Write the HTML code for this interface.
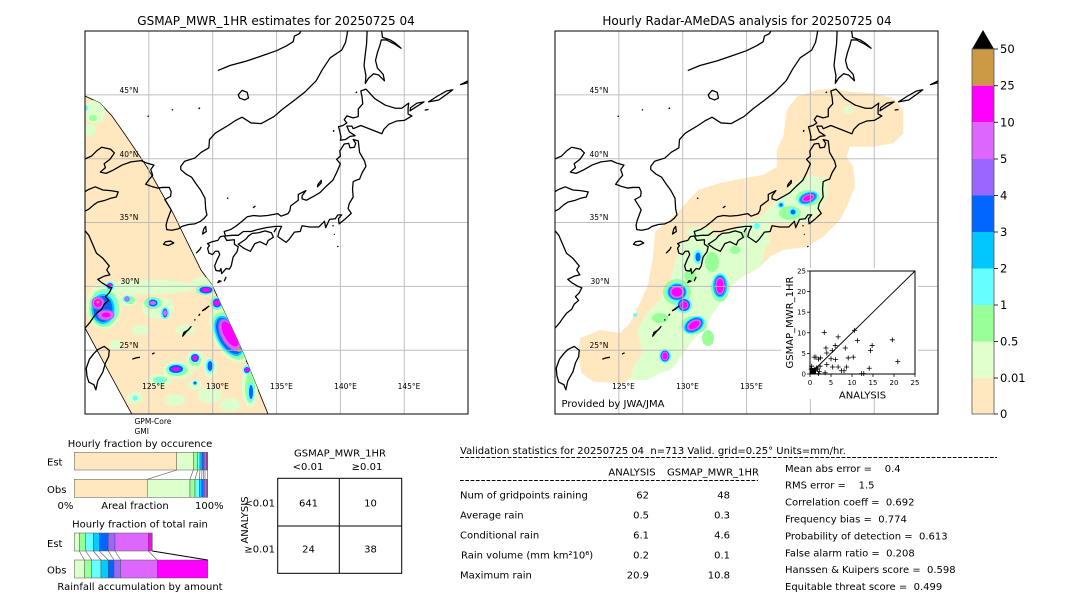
<!DOCTYPE html>
<html><head><meta charset="utf-8"><style>
html,body{margin:0;padding:0;background:#fff;}
svg{display:block;}
text{font-family:"DejaVu Sans","Liberation Sans",sans-serif;fill:#000;}
</style></head><body>
<svg width="1080" height="612" viewBox="0 0 1080 612" xmlns="http://www.w3.org/2000/svg">
<defs>
<clipPath id="cl"><rect x="85" y="31" width="383" height="383"/></clipPath>
<clipPath id="cr"><rect x="555" y="31" width="383" height="383"/></clipPath>
<clipPath id="sw"><polygon points="85,96 100,103 112,116 124,133 147,167 173,213 201,270 212,285 242,350 268,414 131.7,414 85,328"/></clipPath>
</defs>

<text x="276" y="25" font-size="12" text-anchor="middle">GSMAP_MWR_1HR estimates for 20250725 04</text>
<text x="747" y="25" font-size="12" text-anchor="middle">Hourly Radar-AMeDAS analysis for 20250725 04</text>

<!-- LEFT MAP -->
<g clip-path="url(#cl)">
<rect x="85" y="31" width="383" height="383" fill="#fff"/>
<polygon points="85,96 100,103 112,116 124,133 147,167 173,213 201,270 212,285 242,350 268,414 131.7,414 85,328" fill="#ffe8c0" stroke="#000" stroke-width="0.8"/>
<g clip-path="url(#sw)">
<g fill="#ddffcc">
<ellipse cx="150" cy="287" rx="45" ry="7"/><ellipse cx="203" cy="283" rx="12" ry="6"/>
<ellipse cx="104" cy="306" rx="18" ry="23"/><ellipse cx="158" cy="308" rx="16" ry="11"/>
<ellipse cx="128" cy="300" rx="9" ry="6"/><ellipse cx="230" cy="335" rx="17" ry="30" transform="rotate(-29 230 335)"/>
<ellipse cx="195" cy="360" rx="9" ry="9"/><ellipse cx="178" cy="370" rx="15" ry="9"/>
<ellipse cx="210" cy="368" rx="7" ry="10"/><ellipse cx="250" cy="385" rx="8" ry="22"/>
<ellipse cx="195" cy="385" rx="7" ry="5"/><ellipse cx="160" cy="380" rx="12" ry="6"/>
<ellipse cx="135" cy="398" rx="8" ry="6"/><ellipse cx="210" cy="395" rx="12" ry="8"/>
<ellipse cx="95" cy="112" rx="10" ry="12"/><ellipse cx="90" cy="130" rx="6" ry="6"/>
<ellipse cx="185" cy="330" rx="10" ry="5"/><ellipse cx="115" cy="345" rx="6" ry="5"/>
<ellipse cx="140" cy="330" rx="8" ry="5"/><ellipse cx="225" cy="300" rx="8" ry="8"/>
<ellipse cx="175" cy="400" rx="10" ry="6"/><ellipse cx="230" cy="405" rx="10" ry="7"/>
</g>
<g fill="#99ff99">
<ellipse cx="93" cy="118" rx="4" ry="3"/><ellipse cx="230" cy="336" rx="14" ry="26" transform="rotate(-29 230 336)"/>
<ellipse cx="104" cy="308" rx="15" ry="19"/><ellipse cx="153" cy="303" rx="9" ry="6"/>
<ellipse cx="177" cy="370" rx="11" ry="6"/><ellipse cx="195" cy="360" rx="6" ry="6"/>
<ellipse cx="250" cy="388" rx="5" ry="15"/><ellipse cx="205" cy="290" rx="9" ry="5"/>
<ellipse cx="160" cy="380" rx="7" ry="3.5"/><ellipse cx="130" cy="300" rx="5" ry="4"/>
<ellipse cx="217" cy="303" rx="7" ry="7"/>
</g>
<g fill="#66ffff">
<ellipse cx="86" cy="108" rx="2" ry="3"/><ellipse cx="229" cy="336" rx="12.5" ry="23" transform="rotate(-29 229 336)"/>
<ellipse cx="104" cy="308" rx="13" ry="17"/><ellipse cx="110" cy="286" rx="4.5" ry="4.5"/>
<ellipse cx="206" cy="290" rx="8" ry="4.5"/><ellipse cx="217" cy="303" rx="6" ry="6"/>
<ellipse cx="153" cy="303" rx="7" ry="5"/><ellipse cx="165" cy="313" rx="4.5" ry="6"/>
<ellipse cx="127" cy="299" rx="4.5" ry="3.5"/><ellipse cx="195" cy="358" rx="5" ry="5"/>
<ellipse cx="176" cy="369" rx="9" ry="5.5"/><ellipse cx="210" cy="366" rx="4.5" ry="7"/>
<ellipse cx="247" cy="370" rx="4.5" ry="4.5"/><ellipse cx="251" cy="392" rx="3.5" ry="10"/>
<ellipse cx="195" cy="383" rx="2.5" ry="2.5"/><ellipse cx="160" cy="380" rx="4.5" ry="2.5"/>
<ellipse cx="135" cy="398" rx="2.5" ry="2.5"/>
</g>
<g fill="#00ccff">
<ellipse cx="229" cy="336" rx="11.5" ry="22" transform="rotate(-29 229 336)"/>
<ellipse cx="103" cy="309" rx="11.5" ry="15"/>
</g>
<g fill="#0066ff">
<ellipse cx="229" cy="336" rx="10" ry="20" transform="rotate(-29 229 336)"/>
<ellipse cx="103" cy="309" rx="9.5" ry="13"/><ellipse cx="110" cy="286" rx="3" ry="3"/>
<ellipse cx="206" cy="290" rx="6.5" ry="3.5"/><ellipse cx="217" cy="303" rx="4.5" ry="4.5"/>
<ellipse cx="153" cy="303" rx="4.5" ry="3.5"/><ellipse cx="165" cy="313" rx="2.5" ry="4.5"/>
<ellipse cx="127" cy="299" rx="2.5" ry="2.5"/><ellipse cx="195" cy="358" rx="4" ry="4"/>
<ellipse cx="176" cy="369" rx="7" ry="4"/><ellipse cx="210" cy="366" rx="2.5" ry="5"/>
<ellipse cx="247" cy="370" rx="3" ry="3"/><ellipse cx="251" cy="392" rx="2" ry="7"/>
<ellipse cx="195" cy="383" rx="1.5" ry="1.5"/>
</g>
<g fill="#9966ff">
<ellipse cx="230" cy="335" rx="9" ry="18" transform="rotate(-29 230 335)"/>
<ellipse cx="98" cy="303" rx="6.5" ry="6.5"/><ellipse cx="106" cy="315" rx="8.5" ry="5.5"/>
</g>
<g fill="#dd66ff">
<ellipse cx="230" cy="335" rx="8" ry="16" transform="rotate(-29 230 335)"/>
<ellipse cx="98" cy="303" rx="5.5" ry="5.5"/><ellipse cx="106" cy="315" rx="7.5" ry="4.5"/>
<ellipse cx="153" cy="303" rx="3" ry="2"/><ellipse cx="165" cy="313" rx="2" ry="3"/>
<ellipse cx="127" cy="299" rx="2" ry="2"/>
</g>
<g fill="#ff00ff">
<ellipse cx="230" cy="334" rx="6" ry="14" transform="rotate(-29 230 334)"/>
<ellipse cx="98" cy="303" rx="4" ry="4"/><ellipse cx="106" cy="315" rx="4.5" ry="2.5"/>
<ellipse cx="110" cy="286" rx="2" ry="2"/><ellipse cx="206" cy="290" rx="4.5" ry="2"/>
<ellipse cx="217" cy="303" rx="3" ry="3"/><ellipse cx="195" cy="358" rx="2.5" ry="2.5"/>
<ellipse cx="176" cy="369" rx="4.5" ry="2"/><ellipse cx="247" cy="370" rx="2" ry="2"/>
</g>
<g fill="#cc9944">
<circle cx="239" cy="350" r="2"/><circle cx="98" cy="302" r="1.5"/>
</g>
</g>
<g stroke="#b4b4b4" stroke-width="1" opacity="0.85">
<line x1="148.85" y1="31" x2="148.85" y2="414"/><line x1="212.7" y1="31" x2="212.7" y2="414"/>
<line x1="276.55" y1="31" x2="276.55" y2="414"/><line x1="340.4" y1="31" x2="340.4" y2="414"/>
<line x1="404.25" y1="31" x2="404.25" y2="414"/>
<line x1="85" y1="94.85" x2="468" y2="94.85"/><line x1="85" y1="158.7" x2="468" y2="158.7"/>
<line x1="85" y1="222.55" x2="468" y2="222.55"/><line x1="85" y1="286.4" x2="468" y2="286.4"/>
<line x1="85" y1="350.25" x2="468" y2="350.25"/>
</g>
<g fill="none" stroke="#000" stroke-width="0.1" stroke-linejoin="round" transform="matrix(12.77 0 0 -12.77 -1447.4 669.5)">
<path d="M141.0 41.5 L141.4 41.4 L141.5 40.5 L141.9 39.8 L142.0 39.4 L141.7 38.9 L141.5 38.4 L141.2 38.3 L141.0 38.2 L140.95 37.6 L141.0 37.0 L140.7 36.5 L140.6 36.1 L140.85 35.72 L140.4 35.3 L139.9 34.9 L139.85 35.3 L140.1 35.6 L139.8 35.6 L139.6 35.3 L139.15 35.25 L138.85 34.6 L138.75 35.1 L138.3 34.65 L137.6 34.65 L137.0 34.75 L136.85 34.3 L136.4 34.25 L136.0 33.7 L135.75 33.45 L135.1 33.9 L135.2 34.3 L135.4 34.7 L134.9 34.7 L134.2 34.6 L133.5 34.45 L133.0 34.3 L132.4 34.3 L132.0 34.0 L131.5 34.0 L131.0 33.95 L130.9 34.3 L131.4 34.45 L131.8 34.7 L132.3 35.1 L132.7 35.45 L133.2 35.55 L133.7 35.5 L134.3 35.55 L135.1 35.7 L135.35 35.5 L135.9 35.7 L136.05 35.95 L136.1 36.3 L136.7 36.75 L136.7 37.2 L137.3 37.5 L137.0 37.1 L137.0 36.85 L137.35 36.75 L137.9 37.05 L138.4 37.35 L138.9 37.85 L139.4 38.3 L139.7 38.9 L140.0 39.6 L139.7 39.95 L140.0 40.2 L139.95 40.6 L140.3 41.15 L140.65 41.2 L140.75 40.85 L141.1 40.9 L141.2 41.2 Z"/>
<path d="M140.0 41.45 L140.4 41.5 L140.75 41.75 L141.15 41.8 L140.7 42.1 L140.5 42.55 L140.9 42.55 L141.0 42.35 L141.6 42.6 L142.5 42.25 L143.25 41.95 L143.4 42.3 L143.8 42.7 L144.4 42.95 L145.0 43.0 L145.6 43.35 L145.3 43.5 L145.3 43.95 L145.35 44.35 L144.8 43.95 L144.3 43.95 L143.5 44.2 L142.7 44.7 L142.0 45.45 L141.6 45.3 L141.7 44.8 L141.75 44.3 L141.4 43.9 L141.4 43.3 L141.0 43.2 L140.5 43.35 L140.3 43.05 L140.5 42.8 L140.2 42.6 L139.85 42.5 L139.95 42.15 L140.05 41.7 Z"/>
<path d="M130.9 33.95 L131.1 33.6 L131.7 33.65 L131.7 33.3 L132.0 33.1 L131.9 32.7 L131.6 32.3 L131.45 31.6 L131.3 31.35 L131.05 31.4 L130.7 31.0 L130.65 31.4 L130.55 31.2 L130.25 31.25 L130.15 31.6 L130.35 32.1 L130.55 32.5 L130.45 32.75 L130.2 32.75 L130.0 32.5 L129.7 32.6 L129.6 33.0 L129.75 33.2 L129.6 33.35 L129.95 33.5 L130.4 33.6 L130.6 33.9 Z"/>
<path d="M132.0 33.3 L132.5 32.95 L132.95 32.75 L133.3 33.35 L133.7 33.5 L134.2 33.25 L134.35 33.6 L134.75 33.85 L134.6 34.2 L134.1 34.35 L133.6 34.2 L133.1 34.15 L132.8 33.95 L132.6 33.7 Z"/>
<path d="M140.6 50.2 L140.5 49.6 L140.4 49.1 L140.1 48.5 L139.2 47.9 L138.6 47.0 L138.1 46.1 L137.2 45.2 L136.3 44.5 L135.5 43.9 L134.8 43.3 L133.8 42.75 L133.0 42.8 L132.3 43.25 L131.8 43.0 L131.2 42.6 L130.7 42.3 L130.2 42.0 L129.75 41.5 L129.7 40.85 L129.1 40.5 L128.6 40.05 L127.8 39.8 L127.5 39.4 L127.5 39.15 L127.9 38.8 L128.35 38.55 L128.65 38.1 L129.05 37.55 L129.4 36.9 L129.45 36.05 L129.55 35.6 L129.35 35.35 L129.05 35.1 L128.6 34.9 L128.1 34.85 L127.6 34.7 L127.3 34.5 L126.8 34.4 L126.4 34.45 L126.35 34.8 L126.45 35.2 L126.6 35.6 L126.75 36.0 L126.5 36.4 L126.25 36.8 L126.7 37.05 L126.75 37.4 L126.6 37.75 L126.1 37.75 L125.7 37.7 L125.3 37.8 L124.75 38.0 L125.0 38.35 L125.3 38.7 L125.15 39.15 L125.4 39.5 L124.85 39.65 L124.4 39.85 L123.6 39.75 L122.9 39.5 L122.2 39.1 L121.65 38.85 L121.2 38.95 L121.6 39.3 L121.5 39.6 L121.95 39.95 L122.3 40.45 L122.0 40.75 L121.3 40.9 L120.9 40.6 L120.5 40.2 L119.8 39.9"/>
<path d="M119.8 37.3 L120.3 37.6 L120.8 37.8 L121.4 37.55 L122.0 37.5 L122.6 37.4 L122.45 37.0 L122.0 36.9 L121.6 36.75 L121.0 36.6 L120.7 36.4 L120.3 36.05 L119.8 35.8"/>
<path d="M119.8 34.6 L120.3 34.0 L120.6 33.3 L120.9 32.6 L121.4 32.2 L121.9 31.6 L121.7 31.3 L121.95 30.9 L121.5 30.8 L121.0 30.55 L121.3 30.3 L121.8 30.0 L122.1 29.9 L121.9 29.5 L121.6 29.2 L121.85 28.9 L121.5 28.6 L121.3 28.2 L120.9 27.9 L120.6 27.5 L120.4 27.2 L120.15 26.9 L119.8 26.5"/>
<path d="M121.0 25.05 L121.5 25.3 L121.9 25.0 L121.85 24.5 L121.6 24.0 L121.4 23.3 L121.0 22.6 L120.85 21.9 L120.7 22.3 L120.3 22.5 L120.15 23.0 L120.1 23.6 L120.35 24.3 L120.7 24.75 Z"/>
<path d="M142.1 50.2 L142.05 49.0 L141.95 48.2 L141.85 47.3 L142.0 46.5 L141.95 45.9 L142.2 46.3 L142.6 46.65 L143.0 46.55 L143.45 46.1 L143.35 46.6 L142.9 47.1 L142.75 47.7 L142.9 48.3 L143.1 48.9 L143.2 49.3 L143.6 49.3 L144.2 49.0 L144.75 48.65 L144.3 49.05 L143.9 49.3 L143.3 49.5 L143.2 50.2"/>
<path d="M130.4 46.9 L131.35 47.3 L132.66 47.65 L133.7 48.0 L135.0 48.46 L135.8 48.85 L136.3 49.16 L136.4 49.6 L136.8 49.8 L137.0 50.2"/>
<path d="M132.0 45.0 L132.3 45.35 L132.7 45.2 L132.8 44.75 L132.5 44.6 L132.1 44.75 Z"/>
<path d="M145.45 43.75 L146.0 44.1 L146.55 44.45 L146.0 44.35 L145.5 44.0 Z"/>
<path d="M146.9 44.45 L147.6 44.9 L148.3 45.3 L148.8 45.4 L148.4 45.1 L147.7 44.6 Z"/>
<path d="M149.4 45.8 L150.0 46.1 L150.5 46.25 L150.0 45.95 Z"/>
<path d="M146.6 43.8 L146.9 43.85"/>
<path d="M126.15 33.3 L126.5 33.2 L126.95 33.4 L126.7 33.55 L126.3 33.5 Z"/>
<path d="M129.2 34.1 L129.5 34.3 L129.45 34.7 L129.3 34.5 Z"/>
<path d="M127.65 26.1 L127.9 26.4 L128.3 26.85 L128.1 26.6 L127.75 26.4 Z"/>
<path d="M129.2 28.1 L129.7 28.45 L129.4 28.2 Z"/>
<path d="M128.9 27.7 L129.0 27.85"/>
<path d="M128.55 27.35 L128.65 27.4"/>
<path d="M125.25 24.7 L125.45 24.8"/>
<path d="M123.7 24.3 L124.0 24.4 L124.3 24.45"/>
<path d="M130.4 30.3 L130.65 30.4 L130.5 30.45 Z"/>
<path d="M130.9 30.4 L131.05 30.75"/>
<path d="M138.2 37.8 L138.5 38.1 L138.5 38.3 L138.25 38.0 Z"/>
<path d="M133.15 36.15 L133.35 36.3"/>
<path d="M139.4 34.7 L139.45 34.8"/>
<path d="M139.5 34.05 L139.55 34.1"/>
<path d="M139.75 33.1 L139.85 33.15"/>
<path d="M141.2 45.15 L141.3 45.25"/>
<path d="M139.45 42.1 L139.5 42.25"/>
<path d="M134.8 34.25 L135.0 34.6"/>
<path d="M128.7 32.6 L129.0 32.9 L129.1 33.1"/>
<path d="M131.15 36.85 L131.2 36.95"/>
<path d="M124.9 43.3 L125.0 43.35"/>
<path d="M126.8 43.8 L126.9 43.85"/>
<path d="M128.9 43.9 L129.0 44.0"/>
</g>
<g font-size="7.5">
<text x="119.5" y="93">45°N</text><text x="119.5" y="157">40°N</text>
<text x="119.5" y="220">35°N</text><text x="120.5" y="284">30°N</text>
<text x="119.5" y="348">25°N</text>
<g text-anchor="middle">
<text x="153.5" y="389">125°E</text><text x="217.5" y="389">130°E</text>
<text x="281.5" y="389">135°E</text><text x="345.5" y="389">140°E</text>
<text x="409" y="389">145°E</text>
</g>
</g>
</g>
<rect x="85" y="31" width="383" height="383" fill="none" stroke="#000" stroke-width="1"/>
<text x="134.5" y="424" font-size="7.5">GPM-Core</text>
<text x="134.5" y="434" font-size="7.5">GMI</text>

<!-- RIGHT MAP -->
<g clip-path="url(#cr)">
<rect x="555" y="31" width="383" height="383" fill="#fff"/>
<polygon fill="#ffe8c0" points="796.7,96.7 816.7,90 833.3,88.3 850,91.7 873.3,93.3 893.3,98.3 903.3,110 903.3,133.3 893.3,143.3 873.3,146.7 850,146.7 846.7,156.7 853.3,166.7 855,186.7 846.7,206.7 840,220 823.3,236.7 806.7,246.7 783.3,250 770,256.7 760,266.7 750,273.3 736.7,278.3 726.7,293.3 713.3,303.3 703.3,316.7 690,330 680,343.3 673.3,356.7 663.3,363.3 640,368.3 633.3,376.7 623.3,383.3 593.3,381.7 581.7,373.3 578.3,356.7 580,338.3 600,330 620,333 630,323 640,303 648,285 653,257 655,232 677,213 698,190 720,183 750,177 763.3,175 776.7,166.7 776.7,150 783.3,136.7 786.7,110"/>
<g fill="#ddffcc">
<polygon points="680,243 700,233 713,237 730,230 747,222 760,218 770,222 767,240 763,257 760,267 747,273 730,287 723,300 713,313 703,330 693,340 683,353 677,363 670,370 660,373 647,380 630,380 633,368 643,352 637,330 647,313 660,300 670,283 673,270 677,257"/>
<polygon points="760,218 763,215 772,205 785,195 795,183 810,175 825,178 828,192 820,210 808,222 790,222 775,222 770,222"/>
<ellipse cx="848" cy="110" rx="5" ry="4"/>
<ellipse cx="700" cy="232" rx="14" ry="5"/>
<ellipse cx="760" cy="240" rx="10" ry="8"/>
</g>
<g fill="#99ff99">
<ellipse cx="712" cy="262" rx="7" ry="10"/><ellipse cx="735" cy="250" rx="5" ry="4"/>
<ellipse cx="660" cy="318" rx="8" ry="5"/><ellipse cx="708" cy="338" rx="6" ry="8"/>
<ellipse cx="790" cy="213" rx="11" ry="7"/><ellipse cx="745" cy="235" rx="4" ry="3"/>
<ellipse cx="690" cy="276" rx="6" ry="6"/><ellipse cx="677" cy="292" rx="14" ry="13"/>
<ellipse cx="720" cy="288" rx="9" ry="14"/><ellipse cx="694" cy="325" rx="13" ry="9"/>
<ellipse cx="808" cy="198" rx="12" ry="8"/>
</g>
<g fill="#66ffff">
<ellipse cx="677" cy="292" rx="11" ry="10"/><ellipse cx="684" cy="305" rx="8" ry="8"/>
<ellipse cx="720" cy="286" rx="8" ry="13"/><ellipse cx="694" cy="325" rx="12" ry="8" transform="rotate(-30 694 325)"/>
<ellipse cx="665" cy="356" rx="6" ry="7"/><ellipse cx="698" cy="257" rx="4.5" ry="7"/>
<ellipse cx="808" cy="198" rx="11" ry="6.5" transform="rotate(-20 808 198)"/>
<ellipse cx="793" cy="212" rx="4.5" ry="4.5"/><ellipse cx="781" cy="205" rx="3.5" ry="3.5"/>
<ellipse cx="757" cy="226" rx="3" ry="3"/><ellipse cx="635" cy="315" rx="2" ry="2"/>
</g>
<g fill="#00ccff">
<ellipse cx="677" cy="292" rx="9.5" ry="8.5"/><ellipse cx="720" cy="286" rx="7" ry="11.5"/>
<ellipse cx="694" cy="325" rx="10.5" ry="7" transform="rotate(-30 694 325)"/>
<ellipse cx="808" cy="198" rx="9.5" ry="5.5" transform="rotate(-20 808 198)"/>
</g>
<g fill="#0066ff">
<ellipse cx="677" cy="292" rx="8.5" ry="7.5"/><ellipse cx="684" cy="305" rx="6" ry="6"/>
<ellipse cx="720" cy="286" rx="5.5" ry="10"/><ellipse cx="694" cy="325" rx="9" ry="6" transform="rotate(-30 694 325)"/>
<ellipse cx="665" cy="356" rx="4.5" ry="5.5"/><ellipse cx="698" cy="257" rx="2.5" ry="4.5"/>
<ellipse cx="808" cy="198" rx="8" ry="4.5" transform="rotate(-20 808 198)"/>
<ellipse cx="793" cy="212" rx="2.5" ry="2.5"/><ellipse cx="781" cy="205" rx="1.8" ry="1.8"/>
</g>
<g fill="#9966ff">
<ellipse cx="677" cy="292" rx="7.5" ry="6.5"/><ellipse cx="720" cy="286" rx="5" ry="9"/>
<ellipse cx="694" cy="325" rx="8" ry="5" transform="rotate(-30 694 325)"/>
<ellipse cx="808" cy="198" rx="7" ry="3.8" transform="rotate(-20 808 198)"/>
</g>
<g fill="#dd66ff">
<ellipse cx="677" cy="292" rx="7" ry="6"/><ellipse cx="684" cy="305" rx="4.5" ry="4.5"/>
<ellipse cx="720" cy="286" rx="4.5" ry="8.5"/><ellipse cx="694" cy="325" rx="7.5" ry="4.5" transform="rotate(-30 694 325)"/>
<ellipse cx="665" cy="356" rx="3.5" ry="4.5"/>
<ellipse cx="808" cy="198" rx="6.5" ry="3.3" transform="rotate(-20 808 198)"/>
</g>
<g fill="#ff00ff">
<ellipse cx="677" cy="292" rx="5.5" ry="4.5"/><ellipse cx="684" cy="305" rx="3.5" ry="3.5"/>
<ellipse cx="720" cy="286" rx="3.5" ry="7"/><ellipse cx="694" cy="325" rx="6" ry="3.2" transform="rotate(-30 694 325)"/>
<ellipse cx="665" cy="356" rx="2.5" ry="3.5"/>
<ellipse cx="808" cy="198" rx="5" ry="2.3" transform="rotate(-20 808 198)"/>
</g>
<g stroke="#b4b4b4" stroke-width="1" opacity="0.85">
<line x1="618.85" y1="31" x2="618.85" y2="414"/><line x1="682.7" y1="31" x2="682.7" y2="414"/>
<line x1="746.55" y1="31" x2="746.55" y2="414"/><line x1="810.4" y1="31" x2="810.4" y2="414"/>
<line x1="874.25" y1="31" x2="874.25" y2="414"/>
<line x1="555" y1="94.85" x2="938" y2="94.85"/><line x1="555" y1="158.7" x2="938" y2="158.7"/>
<line x1="555" y1="222.55" x2="938" y2="222.55"/><line x1="555" y1="286.4" x2="938" y2="286.4"/>
<line x1="555" y1="350.25" x2="938" y2="350.25"/>
</g>
<g fill="none" stroke="#000" stroke-width="0.1" stroke-linejoin="round" transform="matrix(12.77 0 0 -12.77 -977.4 669.5)">
<path d="M141.0 41.5 L141.4 41.4 L141.5 40.5 L141.9 39.8 L142.0 39.4 L141.7 38.9 L141.5 38.4 L141.2 38.3 L141.0 38.2 L140.95 37.6 L141.0 37.0 L140.7 36.5 L140.6 36.1 L140.85 35.72 L140.4 35.3 L139.9 34.9 L139.85 35.3 L140.1 35.6 L139.8 35.6 L139.6 35.3 L139.15 35.25 L138.85 34.6 L138.75 35.1 L138.3 34.65 L137.6 34.65 L137.0 34.75 L136.85 34.3 L136.4 34.25 L136.0 33.7 L135.75 33.45 L135.1 33.9 L135.2 34.3 L135.4 34.7 L134.9 34.7 L134.2 34.6 L133.5 34.45 L133.0 34.3 L132.4 34.3 L132.0 34.0 L131.5 34.0 L131.0 33.95 L130.9 34.3 L131.4 34.45 L131.8 34.7 L132.3 35.1 L132.7 35.45 L133.2 35.55 L133.7 35.5 L134.3 35.55 L135.1 35.7 L135.35 35.5 L135.9 35.7 L136.05 35.95 L136.1 36.3 L136.7 36.75 L136.7 37.2 L137.3 37.5 L137.0 37.1 L137.0 36.85 L137.35 36.75 L137.9 37.05 L138.4 37.35 L138.9 37.85 L139.4 38.3 L139.7 38.9 L140.0 39.6 L139.7 39.95 L140.0 40.2 L139.95 40.6 L140.3 41.15 L140.65 41.2 L140.75 40.85 L141.1 40.9 L141.2 41.2 Z"/>
<path d="M140.0 41.45 L140.4 41.5 L140.75 41.75 L141.15 41.8 L140.7 42.1 L140.5 42.55 L140.9 42.55 L141.0 42.35 L141.6 42.6 L142.5 42.25 L143.25 41.95 L143.4 42.3 L143.8 42.7 L144.4 42.95 L145.0 43.0 L145.6 43.35 L145.3 43.5 L145.3 43.95 L145.35 44.35 L144.8 43.95 L144.3 43.95 L143.5 44.2 L142.7 44.7 L142.0 45.45 L141.6 45.3 L141.7 44.8 L141.75 44.3 L141.4 43.9 L141.4 43.3 L141.0 43.2 L140.5 43.35 L140.3 43.05 L140.5 42.8 L140.2 42.6 L139.85 42.5 L139.95 42.15 L140.05 41.7 Z"/>
<path d="M130.9 33.95 L131.1 33.6 L131.7 33.65 L131.7 33.3 L132.0 33.1 L131.9 32.7 L131.6 32.3 L131.45 31.6 L131.3 31.35 L131.05 31.4 L130.7 31.0 L130.65 31.4 L130.55 31.2 L130.25 31.25 L130.15 31.6 L130.35 32.1 L130.55 32.5 L130.45 32.75 L130.2 32.75 L130.0 32.5 L129.7 32.6 L129.6 33.0 L129.75 33.2 L129.6 33.35 L129.95 33.5 L130.4 33.6 L130.6 33.9 Z"/>
<path d="M132.0 33.3 L132.5 32.95 L132.95 32.75 L133.3 33.35 L133.7 33.5 L134.2 33.25 L134.35 33.6 L134.75 33.85 L134.6 34.2 L134.1 34.35 L133.6 34.2 L133.1 34.15 L132.8 33.95 L132.6 33.7 Z"/>
<path d="M140.6 50.2 L140.5 49.6 L140.4 49.1 L140.1 48.5 L139.2 47.9 L138.6 47.0 L138.1 46.1 L137.2 45.2 L136.3 44.5 L135.5 43.9 L134.8 43.3 L133.8 42.75 L133.0 42.8 L132.3 43.25 L131.8 43.0 L131.2 42.6 L130.7 42.3 L130.2 42.0 L129.75 41.5 L129.7 40.85 L129.1 40.5 L128.6 40.05 L127.8 39.8 L127.5 39.4 L127.5 39.15 L127.9 38.8 L128.35 38.55 L128.65 38.1 L129.05 37.55 L129.4 36.9 L129.45 36.05 L129.55 35.6 L129.35 35.35 L129.05 35.1 L128.6 34.9 L128.1 34.85 L127.6 34.7 L127.3 34.5 L126.8 34.4 L126.4 34.45 L126.35 34.8 L126.45 35.2 L126.6 35.6 L126.75 36.0 L126.5 36.4 L126.25 36.8 L126.7 37.05 L126.75 37.4 L126.6 37.75 L126.1 37.75 L125.7 37.7 L125.3 37.8 L124.75 38.0 L125.0 38.35 L125.3 38.7 L125.15 39.15 L125.4 39.5 L124.85 39.65 L124.4 39.85 L123.6 39.75 L122.9 39.5 L122.2 39.1 L121.65 38.85 L121.2 38.95 L121.6 39.3 L121.5 39.6 L121.95 39.95 L122.3 40.45 L122.0 40.75 L121.3 40.9 L120.9 40.6 L120.5 40.2 L119.8 39.9"/>
<path d="M119.8 37.3 L120.3 37.6 L120.8 37.8 L121.4 37.55 L122.0 37.5 L122.6 37.4 L122.45 37.0 L122.0 36.9 L121.6 36.75 L121.0 36.6 L120.7 36.4 L120.3 36.05 L119.8 35.8"/>
<path d="M119.8 34.6 L120.3 34.0 L120.6 33.3 L120.9 32.6 L121.4 32.2 L121.9 31.6 L121.7 31.3 L121.95 30.9 L121.5 30.8 L121.0 30.55 L121.3 30.3 L121.8 30.0 L122.1 29.9 L121.9 29.5 L121.6 29.2 L121.85 28.9 L121.5 28.6 L121.3 28.2 L120.9 27.9 L120.6 27.5 L120.4 27.2 L120.15 26.9 L119.8 26.5"/>
<path d="M121.0 25.05 L121.5 25.3 L121.9 25.0 L121.85 24.5 L121.6 24.0 L121.4 23.3 L121.0 22.6 L120.85 21.9 L120.7 22.3 L120.3 22.5 L120.15 23.0 L120.1 23.6 L120.35 24.3 L120.7 24.75 Z"/>
<path d="M142.1 50.2 L142.05 49.0 L141.95 48.2 L141.85 47.3 L142.0 46.5 L141.95 45.9 L142.2 46.3 L142.6 46.65 L143.0 46.55 L143.45 46.1 L143.35 46.6 L142.9 47.1 L142.75 47.7 L142.9 48.3 L143.1 48.9 L143.2 49.3 L143.6 49.3 L144.2 49.0 L144.75 48.65 L144.3 49.05 L143.9 49.3 L143.3 49.5 L143.2 50.2"/>
<path d="M130.4 46.9 L131.35 47.3 L132.66 47.65 L133.7 48.0 L135.0 48.46 L135.8 48.85 L136.3 49.16 L136.4 49.6 L136.8 49.8 L137.0 50.2"/>
<path d="M132.0 45.0 L132.3 45.35 L132.7 45.2 L132.8 44.75 L132.5 44.6 L132.1 44.75 Z"/>
<path d="M145.45 43.75 L146.0 44.1 L146.55 44.45 L146.0 44.35 L145.5 44.0 Z"/>
<path d="M146.9 44.45 L147.6 44.9 L148.3 45.3 L148.8 45.4 L148.4 45.1 L147.7 44.6 Z"/>
<path d="M149.4 45.8 L150.0 46.1 L150.5 46.25 L150.0 45.95 Z"/>
<path d="M146.6 43.8 L146.9 43.85"/>
<path d="M126.15 33.3 L126.5 33.2 L126.95 33.4 L126.7 33.55 L126.3 33.5 Z"/>
<path d="M129.2 34.1 L129.5 34.3 L129.45 34.7 L129.3 34.5 Z"/>
<path d="M127.65 26.1 L127.9 26.4 L128.3 26.85 L128.1 26.6 L127.75 26.4 Z"/>
<path d="M129.2 28.1 L129.7 28.45 L129.4 28.2 Z"/>
<path d="M128.9 27.7 L129.0 27.85"/>
<path d="M128.55 27.35 L128.65 27.4"/>
<path d="M125.25 24.7 L125.45 24.8"/>
<path d="M123.7 24.3 L124.0 24.4 L124.3 24.45"/>
<path d="M130.4 30.3 L130.65 30.4 L130.5 30.45 Z"/>
<path d="M130.9 30.4 L131.05 30.75"/>
<path d="M138.2 37.8 L138.5 38.1 L138.5 38.3 L138.25 38.0 Z"/>
<path d="M133.15 36.15 L133.35 36.3"/>
<path d="M139.4 34.7 L139.45 34.8"/>
<path d="M139.5 34.05 L139.55 34.1"/>
<path d="M139.75 33.1 L139.85 33.15"/>
<path d="M141.2 45.15 L141.3 45.25"/>
<path d="M139.45 42.1 L139.5 42.25"/>
<path d="M134.8 34.25 L135.0 34.6"/>
<path d="M128.7 32.6 L129.0 32.9 L129.1 33.1"/>
<path d="M131.15 36.85 L131.2 36.95"/>
<path d="M124.9 43.3 L125.0 43.35"/>
<path d="M126.8 43.8 L126.9 43.85"/>
<path d="M128.9 43.9 L129.0 44.0"/>
</g>
<g font-size="7.5">
<text x="589.5" y="93">45°N</text><text x="589.5" y="157">40°N</text>
<text x="589.5" y="220">35°N</text><text x="590.5" y="284">30°N</text>
<text x="589.5" y="348">25°N</text>
<g text-anchor="middle">
<text x="623.5" y="389">125°E</text><text x="687.5" y="389">130°E</text>
<text x="751.5" y="389">135°E</text>
</g>
</g>
<rect x="781" y="268" width="137" height="131" fill="#fff"/>
<rect x="810" y="271" width="105" height="103" fill="#fff" stroke="#000" stroke-width="1"/>
<line x1="810" y1="374" x2="915" y2="271" stroke="#000" stroke-width="0.9"/>
<g stroke="#000" stroke-width="0.8">
<line x1="810" y1="374" x2="810" y2="377"/><line x1="831" y1="374" x2="831" y2="377"/>
<line x1="852" y1="374" x2="852" y2="377"/><line x1="873" y1="374" x2="873" y2="377"/>
<line x1="894" y1="374" x2="894" y2="377"/><line x1="915" y1="374" x2="915" y2="377"/>
<line x1="807" y1="374" x2="810" y2="374"/><line x1="807" y1="353.4" x2="810" y2="353.4"/>
<line x1="807" y1="332.8" x2="810" y2="332.8"/><line x1="807" y1="312.2" x2="810" y2="312.2"/>
<line x1="807" y1="291.6" x2="810" y2="291.6"/><line x1="807" y1="271" x2="810" y2="271"/>
</g>
<g font-size="7" text-anchor="middle">
<text x="810" y="385">0</text><text x="831" y="385">5</text><text x="852" y="385">10</text>
<text x="873" y="385">15</text><text x="894" y="385">20</text><text x="915" y="385">25</text>
</g>
<g font-size="7" text-anchor="end">
<text x="806" y="376.5">0</text><text x="806" y="356">5</text><text x="806" y="335.3">10</text>
<text x="806" y="314.7">15</text><text x="806" y="294.1">20</text><text x="806" y="273.5">25</text>
</g>
<text x="862.5" y="398.5" font-size="10" text-anchor="middle">ANALYSIS</text>
<text x="793" y="322.5" font-size="10" text-anchor="middle" transform="rotate(-90 793 322.5)">GSMAP_MWR_1HR</text>
<g transform="translate(810,374) scale(4.2,-4.12)" fill="none" stroke="#000" stroke-width="0.19">
<path d="M3.4 10.1 m-0.6 0 h1.2 m-0.6 -0.6 v1.2
M6.7 9.0 m-0.6 0 h1.2 m-0.6 -0.6 v1.2
M10.6 10.6 m-0.6 0 h1.2 m-0.6 -0.6 v1.2
M11.3 8.1 m-0.6 0 h1.2 m-0.6 -0.6 v1.2
M19.6 8.3 m-0.6 0 h1.2 m-0.6 -0.6 v1.2
M14.8 6.9 m-0.6 0 h1.2 m-0.6 -0.6 v1.2
M14.4 5.7 m-0.6 0 h1.2 m-0.6 -0.6 v1.2
M20.9 3.0 m-0.6 0 h1.2 m-0.6 -0.6 v1.2
M14.1 1.4 m-0.6 0 h1.2 m-0.6 -0.6 v1.2
M10.3 4.1 m-0.6 0 h1.2 m-0.6 -0.6 v1.2
M9.1 3.9 m-0.6 0 h1.2 m-0.6 -0.6 v1.2
M8.4 6.3 m-0.6 0 h1.2 m-0.6 -0.6 v1.2
M6.0 6.9 m-0.6 0 h1.2 m-0.6 -0.6 v1.2
M5.3 5.7 m-0.6 0 h1.2 m-0.6 -0.6 v1.2
M6.1 3.5 m-0.6 0 h1.2 m-0.6 -0.6 v1.2
M5.0 3.7 m-0.6 0 h1.2 m-0.6 -0.6 v1.2
M4.0 5.1 m-0.6 0 h1.2 m-0.6 -0.6 v1.2
M3.8 6.3 m-0.6 0 h1.2 m-0.6 -0.6 v1.2
M4.0 2.3 m-0.6 0 h1.2 m-0.6 -0.6 v1.2
M5.4 1.7 m-0.6 0 h1.2 m-0.6 -0.6 v1.2
M7.5 0.8 m-0.6 0 h1.2 m-0.6 -0.6 v1.2
M8.1 0.8 m-0.6 0 h1.2 m-0.6 -0.6 v1.2
M8.7 1.7 m-0.6 0 h1.2 m-0.6 -0.6 v1.2
M6.7 1.7 m-0.6 0 h1.2 m-0.6 -0.6 v1.2
M2.5 3.9 m-0.6 0 h1.2 m-0.6 -0.6 v1.2
M1.4 4.1 m-0.6 0 h1.2 m-0.6 -0.6 v1.2
M1.0 4.1 m-0.6 0 h1.2 m-0.6 -0.6 v1.2
M2.0 3.6 m-0.6 0 h1.2 m-0.6 -0.6 v1.2
M2.4 1.9 m-0.6 0 h1.2 m-0.6 -0.6 v1.2
M1.8 1.2 m-0.6 0 h1.2 m-0.6 -0.6 v1.2
M0.4 1.9 m-0.6 0 h1.2 m-0.6 -0.6 v1.2
M2.0 0.1 m-0.6 0 h1.2 m-0.6 -0.6 v1.2
M12.3 0.1 m-0.6 0 h1.2 m-0.6 -0.6 v1.2
M12.8 0.1 m-0.6 0 h1.2 m-0.6 -0.6 v1.2
M3.6 0.3 m-0.6 0 h1.2 m-0.6 -0.6 v1.2
M1.5 1.5 m-0.6 0 h1.2 m-0.6 -0.6 v1.2
M2.2 0.6 m-0.6 0 h1.2 m-0.6 -0.6 v1.2
M1.1 0.8 m-0.6 0 h1.2 m-0.6 -0.6 v1.2
M0.3 1.2 m-0.6 0 h1.2 m-0.6 -0.6 v1.2"/>
</g>
<rect x="810" y="368" width="6" height="6" fill="#000"/>
<text x="561.5" y="407" font-size="10">Provided by JWA/JMA</text>
</g>
<rect x="555" y="31" width="383" height="383" fill="none" stroke="#000" stroke-width="1"/>

<!-- COLORBAR -->
<polygon points="972,49 994,49 983,30" fill="#000"/>
<rect x="972" y="49" width="22" height="36.7" fill="#cc9944"/>
<rect x="972" y="85.7" width="22" height="36.6" fill="#ff00ff"/>
<rect x="972" y="122.3" width="22" height="36.7" fill="#dd66ff"/>
<rect x="972" y="159" width="22" height="36.5" fill="#9966ff"/>
<rect x="972" y="195.5" width="22" height="36.5" fill="#0066ff"/>
<rect x="972" y="232" width="22" height="36.5" fill="#00c8ff"/>
<rect x="972" y="268.5" width="22" height="36.5" fill="#66ffff"/>
<rect x="972" y="305" width="22" height="36.5" fill="#99ff99"/>
<rect x="972" y="341.5" width="22" height="36.5" fill="#e0ffcc"/>
<rect x="972" y="378" width="22" height="36" fill="#ffe8c0"/>
<rect x="972" y="49" width="22" height="365" fill="none" stroke="#555" stroke-width="0.8"/>
<g stroke="#000" stroke-width="0.8">
<line x1="994" y1="49" x2="998" y2="49"/><line x1="994" y1="85.7" x2="998" y2="85.7"/>
<line x1="994" y1="122.3" x2="998" y2="122.3"/><line x1="994" y1="159" x2="998" y2="159"/>
<line x1="994" y1="195.5" x2="998" y2="195.5"/><line x1="994" y1="232" x2="998" y2="232"/>
<line x1="994" y1="268.5" x2="998" y2="268.5"/><line x1="994" y1="305" x2="998" y2="305"/>
<line x1="994" y1="341.5" x2="998" y2="341.5"/><line x1="994" y1="378" x2="998" y2="378"/>
<line x1="994" y1="414" x2="998" y2="414"/>
</g>
<g font-size="11.5">
<text x="1000" y="53">50</text><text x="1000" y="89.7">25</text><text x="1000" y="126.3">10</text>
<text x="1000" y="163">5</text><text x="1000" y="199.5">4</text><text x="1000" y="236">3</text>
<text x="1000" y="272.5">2</text><text x="1000" y="309">1</text><text x="1000" y="345.5">0.5</text>
<text x="1000" y="382">0.01</text><text x="1000" y="418">0</text>
</g>

<!-- BOTTOM LEFT BAR CHARTS -->
<text x="140" y="447" font-size="10" text-anchor="middle">Hourly fraction by occurence</text>
<text x="47" y="465.5" font-size="10">Est</text>
<text x="47" y="493" font-size="10">Obs</text>
<g stroke="#555" stroke-width="0.5">
<rect x="74.3" y="452.3" width="102.4" height="17.7" fill="#ffe8c0"/>
<rect x="176.7" y="452.3" width="16.6" height="17.7" fill="#ddffcc"/>
<rect x="193.3" y="452.3" width="4.4" height="17.7" fill="#99ff99"/>
<rect x="197.7" y="452.3" width="2.3" height="17.7" fill="#66ffff"/>
<rect x="200" y="452.3" width="2" height="17.7" fill="#00ccff"/>
<rect x="202" y="452.3" width="1.5" height="17.7" fill="#0066ff"/>
<rect x="203.5" y="452.3" width="1.5" height="17.7" fill="#9966ff"/>
<rect x="205" y="452.3" width="1.5" height="17.7" fill="#dd66ff"/>
<rect x="206.5" y="452.3" width="1.2" height="17.7" fill="#ff00ff"/>
<rect x="74.3" y="479.3" width="73" height="18" fill="#ffe8c0"/>
<rect x="147.3" y="479.3" width="42.7" height="18" fill="#ddffcc"/>
<rect x="190" y="479.3" width="5" height="18" fill="#99ff99"/>
<rect x="195" y="479.3" width="4.3" height="18" fill="#66ffff"/>
<rect x="199.3" y="479.3" width="2.4" height="18" fill="#00ccff"/>
<rect x="201.7" y="479.3" width="1.6" height="18" fill="#0066ff"/>
<rect x="203.3" y="479.3" width="1.7" height="18" fill="#9966ff"/>
<rect x="205" y="479.3" width="1.7" height="18" fill="#dd66ff"/>
<rect x="206.7" y="479.3" width="1" height="18" fill="#ff00ff"/>
</g>
<g stroke="#555" stroke-width="0.6">
<line x1="176.7" y1="470" x2="147.3" y2="479.3"/><line x1="193.3" y1="470" x2="190" y2="479.3"/>
<line x1="197.7" y1="470" x2="195" y2="479.3"/><line x1="200" y1="470" x2="199.3" y2="479.3"/>
<line x1="202" y1="470" x2="201.7" y2="479.3"/><line x1="203.5" y1="470" x2="203.3" y2="479.3"/>
<line x1="205" y1="470" x2="205" y2="479.3"/><line x1="207.7" y1="470" x2="207.7" y2="479.3"/>
</g>
<text x="57.5" y="509" font-size="10">0%</text>
<text x="135" y="509" font-size="10" text-anchor="middle">Areal fraction</text>
<text x="195" y="509" font-size="10">100%</text>

<text x="140" y="527.5" font-size="10" text-anchor="middle">Hourly fraction of total rain</text>
<text x="47" y="547" font-size="10">Est</text>
<text x="47" y="573.5" font-size="10">Obs</text>
<g stroke="#555" stroke-width="0.5">
<rect x="74.3" y="533" width="5" height="18" fill="#ddffcc"/>
<rect x="79.3" y="533" width="6.4" height="18" fill="#99ff99"/>
<rect x="85.7" y="533" width="7.6" height="18" fill="#66ffff"/>
<rect x="93.3" y="533" width="6" height="18" fill="#00ccff"/>
<rect x="99.3" y="533" width="9" height="18" fill="#0066ff"/>
<rect x="108.3" y="533" width="6.7" height="18" fill="#9966ff"/>
<rect x="115" y="533" width="33.3" height="18" fill="#dd66ff"/>
<rect x="148.3" y="533" width="4" height="18" fill="#ff00ff"/>
<rect x="74.3" y="560" width="10" height="18" fill="#ddffcc"/>
<rect x="84.3" y="560" width="7.4" height="18" fill="#99ff99"/>
<rect x="91.7" y="560" width="9.3" height="18" fill="#66ffff"/>
<rect x="101" y="560" width="7.3" height="18" fill="#00ccff"/>
<rect x="108.3" y="560" width="5.7" height="18" fill="#0066ff"/>
<rect x="114" y="560" width="6.7" height="18" fill="#9966ff"/>
<rect x="120.7" y="560" width="36.6" height="18" fill="#dd66ff"/>
<rect x="157.3" y="560" width="50.4" height="18" fill="#ff00ff"/>
</g>
<g stroke="#555" stroke-width="0.6">
<line x1="79.3" y1="551" x2="84.3" y2="560"/><line x1="85.7" y1="551" x2="91.7" y2="560"/>
<line x1="93.3" y1="551" x2="101" y2="560"/><line x1="99.3" y1="551" x2="108.3" y2="560"/>
<line x1="108.3" y1="551" x2="114" y2="560"/><line x1="115" y1="551" x2="120.7" y2="560"/>
<line x1="148.3" y1="551" x2="157.3" y2="560"/>
</g>
<line x1="152.3" y1="551" x2="207.7" y2="560" stroke="#000" stroke-width="0.9"/>
<text x="140" y="590" font-size="10" text-anchor="middle">Rainfall accumulation by amount</text>

<!-- CONTINGENCY TABLE -->
<text x="340" y="456.5" font-size="10" text-anchor="middle">GSMAP_MWR_1HR</text>
<text x="308" y="470" font-size="10" text-anchor="middle">&lt;0.01</text>
<text x="367" y="470" font-size="10" text-anchor="middle">≥0.01</text>
<rect x="277.7" y="478.3" width="124" height="95" fill="none" stroke="#000" stroke-width="1"/>
<line x1="339.3" y1="478.3" x2="339.3" y2="573.3" stroke="#000" stroke-width="1"/>
<line x1="277.7" y1="526" x2="401.7" y2="526" stroke="#000" stroke-width="1"/>
<g font-size="10" text-anchor="middle">
<text x="308.5" y="506.5">641</text><text x="370.5" y="506.5">10</text>
<text x="308.5" y="552.5">24</text><text x="370.5" y="552.5">38</text>
</g>
<text x="275" y="506.5" font-size="10" text-anchor="end">&lt;0.01</text>
<text x="275" y="552.5" font-size="10" text-anchor="end">≥0.01</text>
<text x="248" y="520" font-size="10" text-anchor="middle" transform="rotate(-90 248 520)">ANALYSIS</text>

<!-- VALIDATION STATS -->
<text x="460" y="454" font-size="10" xml:space="preserve">Validation statistics for 20250725 04  n=713 Valid. grid=0.25° Units=mm/hr.</text>
<line x1="460" y1="457.5" x2="997" y2="457.5" stroke="#000" stroke-width="0.9" stroke-dasharray="3.7,1.6"/>
<text x="632" y="475.5" font-size="10" text-anchor="middle">ANALYSIS</text>
<text x="713" y="475.5" font-size="10" text-anchor="middle">GSMAP_MWR_1HR</text>
<line x1="460" y1="480.5" x2="758" y2="480.5" stroke="#000" stroke-width="0.9" stroke-dasharray="3.7,1.6"/>
<g font-size="10">
<text x="460" y="498.5">Num of gridpoints raining</text>
<text x="460" y="518.5">Average rain</text>
<text x="460" y="538.5">Conditional rain</text>
<text x="461" y="558.5">Rain volume (mm km²10⁶)</text>
<text x="460" y="578.5">Maximum rain</text>
</g>
<g font-size="10" text-anchor="end">
<text x="649" y="498.5">62</text><text x="649" y="518.5">0.5</text><text x="649" y="538.5">6.1</text>
<text x="649" y="558.5">0.2</text><text x="649" y="578.5">20.9</text>
<text x="730" y="498.5">48</text><text x="730" y="518.5">0.3</text><text x="730" y="538.5">4.6</text>
<text x="730" y="558.5">0.1</text><text x="730" y="578.5">10.8</text>
</g>
<g font-size="10">
<text x="785" y="471.8" xml:space="preserve">Mean abs error =    0.4</text>
<text x="785" y="488.7" xml:space="preserve">RMS error =    1.5</text>
<text x="785" y="505.6" xml:space="preserve">Correlation coeff =  0.692</text>
<text x="785" y="522.5" xml:space="preserve">Frequency bias =  0.774</text>
<text x="785" y="539.4" xml:space="preserve">Probability of detection =  0.613</text>
<text x="785" y="556.3" xml:space="preserve">False alarm ratio =  0.208</text>
<text x="785" y="573.2" xml:space="preserve">Hanssen &amp; Kuipers score =  0.598</text>
<text x="785" y="590.1" xml:space="preserve">Equitable threat score =  0.499</text>
</g>
</svg>
</body></html>
